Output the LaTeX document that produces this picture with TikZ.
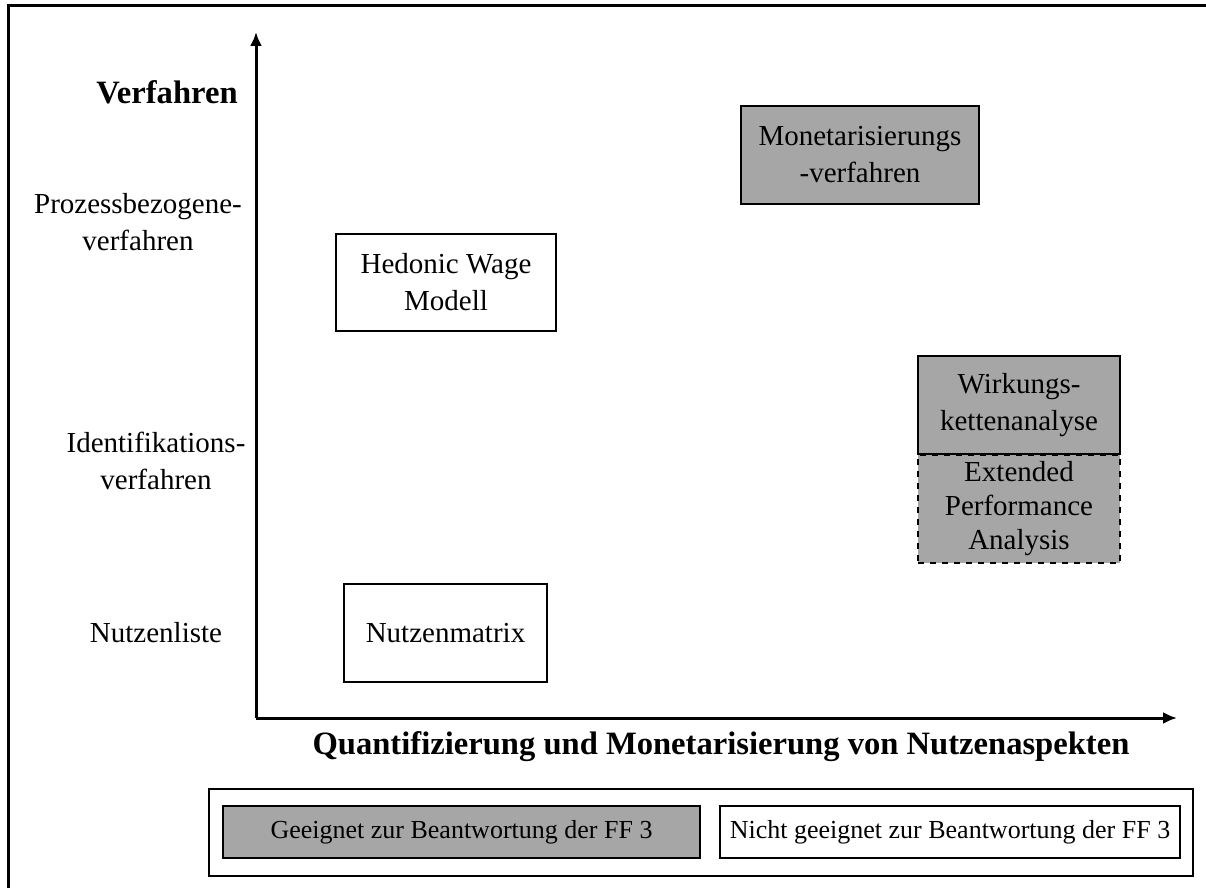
\documentclass[tikz,border=0pt]{standalone}
\usepackage{fontspec}
\setmainfont{Liberation Serif}
\usetikzlibrary{arrows.meta}
\definecolor{fillgrey}{HTML}{A6A6A6}
\begin{document}
\begin{tikzpicture}[x=0.5pt,y=-0.5pt,
  txt/.style={font=\fontsize{14.5}{18.5}\selectfont, align=center, inner sep=0pt},
  bold/.style={font=\fontsize{16.3}{20}\selectfont\bfseries, inner sep=0pt},
  box/.style={draw, line width=1pt, txt, minimum width=#1},
  suit/.style={fill=fillgrey},
  legtxt/.style={font=\fontsize{13}{15}\selectfont, inner sep=0pt},
  axis/.style={line width=1.5pt, -{Latex[length=7pt,width=6pt]}}]
  \useasboundingbox (0,0) rectangle (1206,888);
  \clip (0,0) rectangle (1206,888);
  % frame around the whole figure
  \draw[line width=1.5pt] (8,6) rectangle (1230,910);

  % axes
  \coordinate (o) at (256,718);
  \coordinate (ytip) at (256,32);
  \coordinate (xtip) at (1177,718);
  \draw[axis] (o) -- (ytip);
  \draw[axis] (o) -- (xtip);

  % axis titles
  \node[bold] (ylab) at (167,92) {Verfahren};
  \node[bold] (xlab) at (721,747) {Quantifizierung und Monetarisierung von Nutzenaspekten};

  % categories on the vertical axis
  \node[txt] (proz) at (138,222) {Prozessbezogene-\\verfahren};
  \node[txt] (ident) at (156,461) {Identifikations-\\verfahren};
  \node[txt] (liste) at (156,633) {Nutzenliste};

  % methods
  \node[box=119pt, suit, minimum height=49pt] (mon) at (860,155) {Monetarisierungs\\-verfahren};
  \node[box=110pt, minimum height=48.5pt] (hwm) at (446,282.5) {Hedonic Wage\\Modell};
  \node[box=101pt, suit, dashed, minimum height=54pt,
        font=\fontsize{14.5}{17}\selectfont] (epa) at (1019,509) {Extended\\Performance\\Analysis};
  \node[box=101pt, suit, minimum height=49pt] (wka) at (1019,405) {Wirkungs-\\kettenanalyse};
  \node[box=101.5pt, minimum height=49pt] (nzm) at (445.5,633) {Nutzenmatrix};

  % legend
  \node[draw, line width=0.8pt, minimum width=492pt, minimum height=43.5pt, inner sep=0pt] (leg) at (701,832.5) {};
  \node[draw, line width=1pt, suit, legtxt, minimum width=238.5pt, minimum height=26pt] (legyes) at (461.5,832) {Geeignet zur Beantwortung der FF 3};
  \node[draw, line width=1pt, legtxt, minimum width=230pt, minimum height=26pt] (legno) at (950,832) {Nicht geeignet zur Beantwortung der FF 3};
\end{tikzpicture}
\end{document}
